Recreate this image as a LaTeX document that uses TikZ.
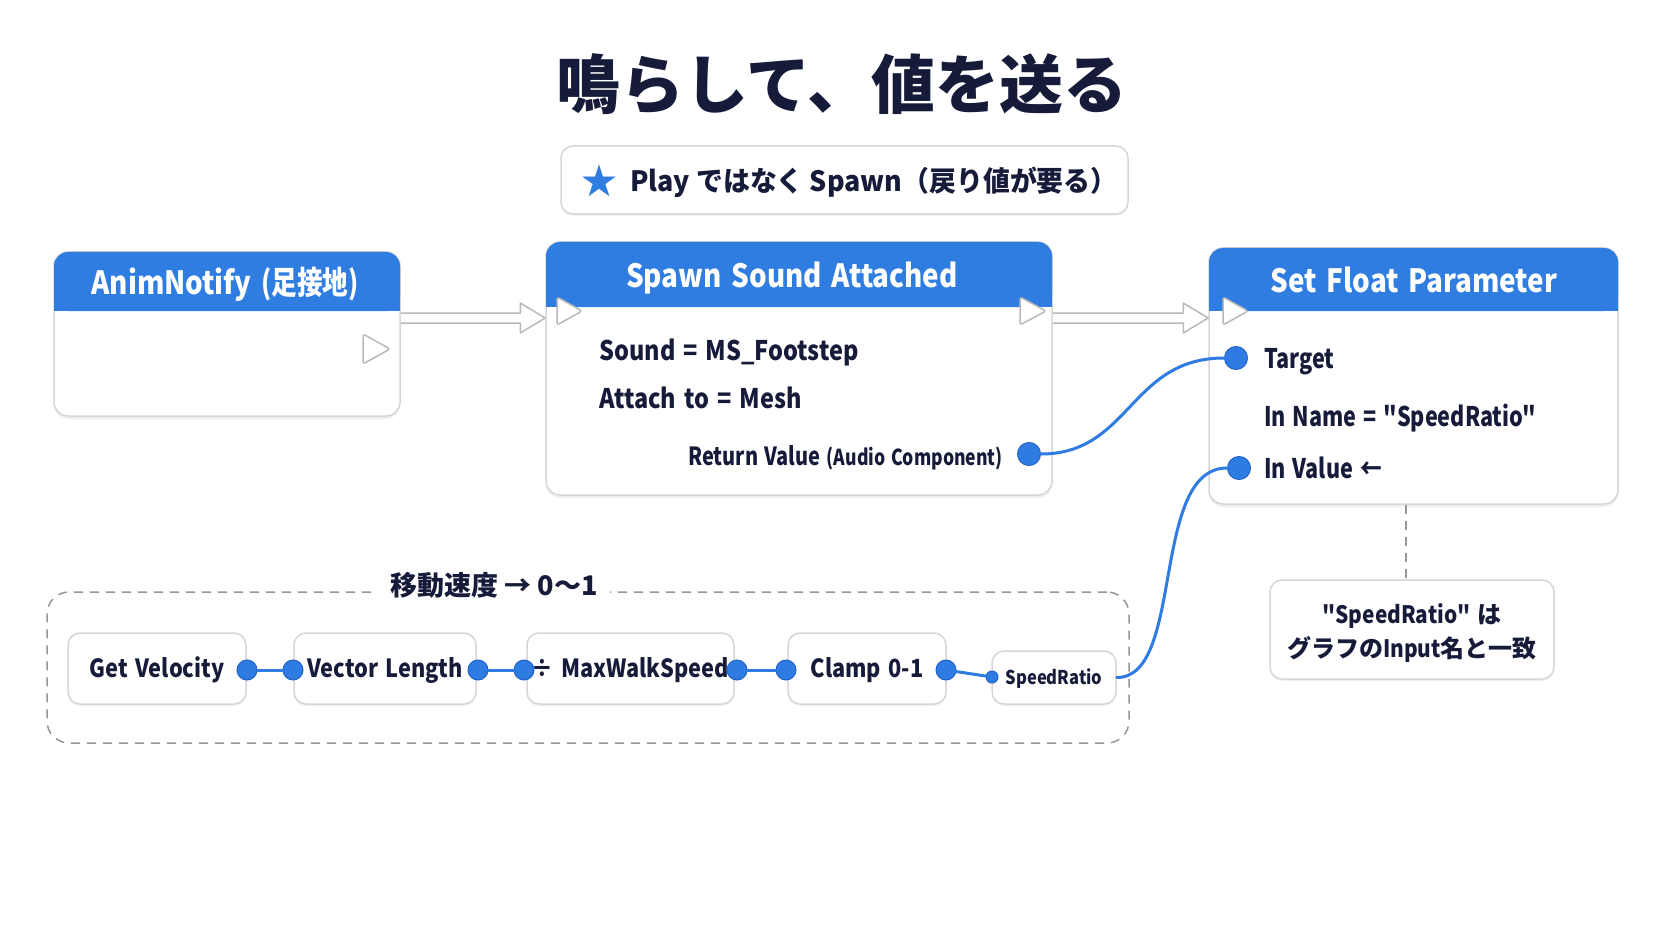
\documentclass[tikz,border=0pt]{standalone}
\usepackage{fontspec}
\setmainfont{Noto Sans CJK JP}[FakeStretch=0.87, WordSpace=1.5, Ligatures=TeXOff]
\newfontfamily\cjkfont{Noto Sans CJK JP}[Ligatures=TeXOff]
\newfontfamily\subfont{Noto Sans CJK JP}[FakeStretch=0.96, Ligatures=TeXOff]
\newfontfamily\narrowfont{Noto Sans CJK JP}[FakeStretch=0.80, WordSpace=1.4, Ligatures=TeXOff]
\newfontfamily\titlefont{Noto Sans CJK JP Black}
\usetikzlibrary{calc,shadows}
\definecolor{hdr}{RGB}{47,125,225}
\definecolor{ink}{RGB}{22,27,58}
\definecolor{bord}{RGB}{214,214,214}
\definecolor{pinfill}{RGB}{46,123,226}
\definecolor{pinedge}{RGB}{36,100,200}
\definecolor{dashc}{RGB}{150,150,150}
\definecolor{execgray}{RGB}{185,185,185}
\begin{document}
\begin{tikzpicture}[x=1pt,y=-1pt,
  mainbox/.style={draw=bord, line width=1.5, fill=white, rounded corners=14,
    drop shadow={opacity=0.12, shadow xshift=0pt, shadow yshift=-3pt}},
  smallbox/.style={draw=bord, line width=1.5, fill=white, rounded corners=12, text=ink,
    font=\fontsize{25}{30}\selectfont\bfseries, text height=18pt, text depth=0pt,
    drop shadow={opacity=0.10, shadow xshift=0pt, shadow yshift=-2pt}},
  notebox/.style={draw=bord, line width=1.5, fill=white, rounded corners=12,
    drop shadow={opacity=0.10, shadow xshift=0pt, shadow yshift=-2pt}},
  hdrtext/.style={text=white, font=\fontsize{32}{36}\selectfont\bfseries, inner sep=0,
    text height=23pt, text depth=0pt},
  bodytext/.style={text=ink, font=\fontsize{27}{32}\selectfont\bfseries, inner sep=0,
    text height=20pt, text depth=0pt},
  pindot/.style={circle, fill=pinfill, draw=pinedge, line width=1, inner sep=0, minimum size=20},
  bigpin/.style={pindot, minimum size=23},
  wire/.style={draw=pinfill, line width=3, line cap=round},
  execarrow/.style={fill=white, draw=execgray, line width=1.5, line join=round},
  exectri/.style={fill=white, draw=execgray, line width=1.5, rounded corners=2.5},
  groupbox/.style={draw=dashc, line width=1.5, dash pattern=on 9pt off 7pt, rounded corners=22},
  dashline/.style={draw=dashc, line width=1.5, dash pattern=on 9pt off 7pt}
]
\useasboundingbox[fill=white] (0,0) rectangle (1672,941);

% title
\node[text=ink, font=\fontsize{64}{72}\selectfont\titlefont] (title) at (842,84) {鳴らして、値を送る};

% subtitle
\node[notebox, minimum width=567, minimum height=68] (sub) at (844.5,180) {};
\node[text=hdr, font=\fontsize{36}{40}\selectfont\cjkfont, inner sep=0] (star) at (599,181) {★};
\node[anchor=west, text=ink, font=\fontsize{28}{34}\selectfont\subfont\bfseries, inner sep=0,
  text height=20.5pt, text depth=0pt] (subtxt) at (630,181) {Play ではなく Spawn（戻り値が要る）};

% main boxes
\node[mainbox, minimum width=346, minimum height=164] (anim) at (227,334) {};
\node[mainbox, minimum width=506, minimum height=253] (spawn) at (799,368.5) {};
\node[mainbox, minimum width=409, minimum height=256] (setf) at (1413.5,376) {};

% headers
\fill[hdr, rounded corners=14] (54,252) rectangle (400,311);
\fill[hdr] (54,290) rectangle (400,311);
\fill[hdr, rounded corners=14] (546,242) rectangle (1052,307);
\fill[hdr] (546,285) rectangle (1052,307);
\fill[hdr, rounded corners=14] (1209,248) rectangle (1618,311);
\fill[hdr] (1209,290) rectangle (1618,311);

\node[hdrtext] (animT) at (225,283) {AnimNotify {\narrowfont(足接地)}};
\node[hdrtext] (spawnT) at (792,276) {Spawn Sound Attached};
\node[hdrtext] (setfT) at (1414,281) {Set Float Parameter};

% exec triangles
\draw[exectri] (363,334) -- (390,349) -- (363,364) -- cycle;
\draw[exectri] (557,297) -- (582,311) -- (557,325) -- cycle;
\draw[exectri] (1020,297) -- (1046,311) -- (1020,325) -- cycle;
\draw[exectri] (1223,297) -- (1248,311) -- (1223,325) -- cycle;

% exec connectors
\coordinate (ey) at (0,318);
\coordinate (a1) at (anim.east |- ey);
\coordinate (a2) at (spawn.west |- ey);
\coordinate (b1) at (spawn.east |- ey);
\coordinate (b2) at (setf.west |- ey);
\draw[execarrow] ($(a1)+(0,-5)$) -- ($(a2)+(-25,-5)$) -- ($(a2)+(-25,-15)$) -- (a2)
  -- ($(a2)+(-25,15)$) -- ($(a2)+(-25,5)$) -- ($(a1)+(0,5)$);
\draw[execarrow] ($(b1)+(0,-5)$) -- ($(b2)+(-25,-5)$) -- ($(b2)+(-25,-15)$) -- (b2)
  -- ($(b2)+(-25,15)$) -- ($(b2)+(-25,5)$) -- ($(b1)+(0,5)$);

% spawn body
\node[bodytext, anchor=west] (snd) at (599,350) {Sound = MS\_Footstep};
\node[bodytext, anchor=west] (att) at (599,398) {Attach to = Mesh};
\node[bodytext, anchor=east, font=\fontsize{25}{30}\selectfont\narrowfont\bfseries, text height=18.5pt] (ret) at (1003,456)
  {Return Value {\fontsize{22}{26}\selectfont(Audio Component)}};

% set float body
\node[bodytext, anchor=west, font=\fontsize{27}{32}\selectfont\narrowfont\bfseries] (tgt) at (1264,358) {Target};
\node[bodytext, anchor=west, font=\fontsize{27}{32}\selectfont\narrowfont\bfseries] (inn) at (1264,416) {In Name = "SpeedRatio"};
\node[bodytext, anchor=west, font=\fontsize{27}{32}\selectfont\narrowfont\bfseries] (inv) at (1264,468) {In Value ←};

% group box
\node[groupbox, minimum width=1082, minimum height=151] (grp) at (588,667.5) {};
\node[fill=white, text=ink, font=\fontsize{27}{32}\selectfont\cjkfont\bfseries, inner xsep=12, inner ysep=4] (grplbl) at (494,585) {移動速度 → 0〜1};

% small nodes
\node[smallbox, minimum width=178, minimum height=71] (getvel) at (157,668.5) {Get Velocity};
\node[smallbox, minimum width=182, minimum height=71] (veclen) at (385,668.5) {Vector Length};
\node[smallbox, minimum width=207, minimum height=71] (maxws) at (630.5,668.5) {÷ MaxWalkSpeed};
\node[smallbox, minimum width=158, minimum height=71] (clamp) at (867,668.5) {Clamp 0-1};
\node[smallbox, minimum width=124, minimum height=53, font=\fontsize{19}{23}\selectfont\bfseries, text height=14pt] (spdr) at (1054,677.5) {SpeedRatio};

% note
\node[notebox, minimum width=284, minimum height=99] (note) at (1412,629.5) {};
\node[text=ink, font=\fontsize{24}{34}\selectfont\bfseries, align=center] (notetxt) at (1412,633)
  {"SpeedRatio" {\cjkfont は}\\{\cjkfont グラフの}Input{\cjkfont 名と一致}};
\coordinate (nt) at ([xshift=-6pt]note.north);
\draw[dashline] (nt |- setf.south) -- (nt);

% pins
\node[bigpin] (rv) at (1029,454) {};
\node[bigpin] (tg) at (1236,358) {};
\node[bigpin] (iv) at (1239,468) {};
\node[pindot] (p1) at (247,670) {};
\node[pindot] (p2) at (293,670) {};
\node[pindot] (p3) at (478,670) {};
\node[pindot] (p4) at (524,670) {};
\node[pindot] (p5) at (737,670) {};
\node[pindot] (p6) at (786,670) {};
\node[pindot] (p7) at (946,670) {};
\node[pindot, minimum size=12] (p8) at (992,677) {};

% wires
\draw[wire] (p1) -- (p2);
\draw[wire] (p3) -- (p4);
\draw[wire] (p5) -- (p6);
\draw[wire] (p7) -- (p8);
\draw[wire] (rv.east) .. controls (1130,454) and (1130,358) .. (tg.west);
\draw[wire] (spdr.east) .. controls (1185,678) and (1150,468) .. (iv.west);
\end{tikzpicture}
\end{document}
